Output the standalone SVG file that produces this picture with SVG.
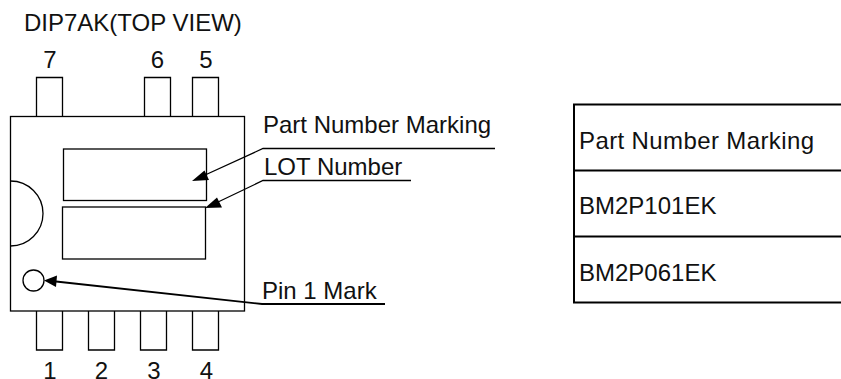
<svg xmlns="http://www.w3.org/2000/svg" width="841" height="379" viewBox="0 0 841 379">
<style>
.s{fill:none;stroke:#000;stroke-width:1.3}
.w{fill:#fff;stroke:#000;stroke-width:1.3}
.l{fill:none;stroke:#000;stroke-width:1.3}
.t{stroke:#000;stroke-width:2;fill:none}
text{font-family:"Liberation Sans",Arial,sans-serif;fill:#111;font-size:24px}
</style>
<rect width="841" height="379" fill="#fff"/>
<text x="24" y="31">DIP7AK(TOP VIEW)</text>
<g id="package">
<path class="s" d="M36.500 116.500V77.500H62.500V116.500M144.500 116.500V77.500H170.500V116.500M192.500 116.500V77.500H218.500V116.500"/>
<path class="s" d="M36.500 311V350H62.500V311M88.500 311V350H114.500V311M140.500 311V350H166.500V311M192.500 311V350H218.500V311"/>
<rect class="w" x="10.500" y="116.500" width="234" height="194.500"/>
<path class="s" d="M10.500 181A32.500 32.500 0 0 1 10.500 246"/>
<rect class="s" x="63.500" y="149" width="143" height="51.500"/>
<rect class="s" x="62.500" y="207" width="143" height="52"/>
<circle class="s" cx="33.500" cy="280.500" r="10.500"/>
</g>
<g id="pin-labels">
<text x="50" y="68" text-anchor="middle">7</text>
<text x="157.500" y="68" text-anchor="middle">6</text>
<text x="206" y="68" text-anchor="middle">5</text>
<text x="50" y="378.500" text-anchor="middle">1</text>
<text x="101.500" y="378.500" text-anchor="middle">2</text>
<text x="154" y="378.500" text-anchor="middle">3</text>
<text x="206.500" y="378.500" text-anchor="middle">4</text>
</g>
<g id="connectors">
<path class="l" d="M495 148.500H263L204 175.500"/><path d="M192 181L204.500 170.500L209 180Z"/>
<path class="l" d="M411 180.500H263L217 202.500"/><path d="M205 208L217 197.500L222 207.500Z"/>
<path class="l" style="stroke-width:1.800" d="M385 304H262L56 281.500"/><path d="M44 280.500L57 275.500L56 287Z"/>
</g>
<g id="callouts">
<text x="263" y="133">Part Number Marking</text>
<text x="264" y="175">LOT Number</text>
<text x="262" y="299">Pin 1 Mark</text>
</g>
<g id="table">
<path class="t" d="M574 103.500V303.500M573 104.500H841M573 170.500H841M573 236.500H841M573 302.500H841"/>
<text x="579" y="149" textLength="235" lengthAdjust="spacing">Part Number Marking</text>
<text x="579" y="214">BM2P101EK</text>
<text x="579" y="281">BM2P061EK</text>
</g>
</svg>
